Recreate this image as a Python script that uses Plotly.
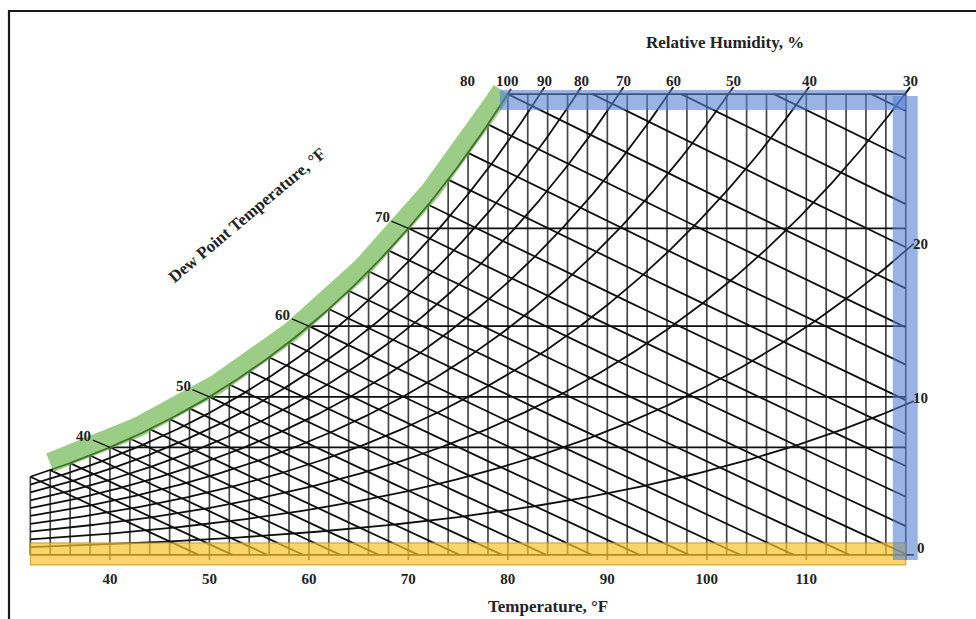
import numpy as np
import plotly.graph_objects as go

# ---------------------------------------------------------------- chart content
TEMP_TICKS = [40, 50, 60, 70, 80, 90, 100, 110]          # dry-bulb labels, °F
DRY_BULB_LINES = list(range(32, 121, 2))                 # vertical grid, °F
WET_BULB_LINES = list(range(32, 89, 2))                  # wet-bulb lines, °F
RH_LINES = [90, 80, 70, 60, 50, 40, 30, 20, 10]          # relative humidity, %
RH_TOP_LABELS = [100, 90, 80, 70, 60, 50, 40, 30]
RH_SIDE_LABELS = [20, 10, 0]
DEW_POINT_LINES = [40, 50, 60, 70]
DEW_POINT_LABELS = [40, 50, 60, 70]
DEW_POINT_TOP = 80

T_LEFT, T_RIGHT, T_TOP = 32, 120, 80                     # chart boundary, °F
P_ATM = 14.696                                           # psia, sea level

# ---------------------------------------------------------------- layout frame
FIG_W, FIG_H = 976, 619
MARGIN_B = 51
X_RANGE = [28.95, 127.06]
Y_RANGE = [-0.00063, 0.02678]
PX_X = (X_RANGE[1] - X_RANGE[0]) / FIG_W                 # °F per pixel
PX_Y = (Y_RANGE[1] - Y_RANGE[0]) / (FIG_H - MARGIN_B)    # lb/lb per pixel


# ---------------------------------------------------------------- psychrometrics
def p_sat(t_f):
    """Saturation vapour pressure over water (psia), Hyland-Wexler form."""
    T = np.asarray(t_f, dtype=float) + 459.67
    return np.exp(-1.0440397e4 / T - 1.1294650e1 - 2.7022355e-2 * T
                  + 1.2890360e-5 * T ** 2 - 2.4780681e-9 * T ** 3
                  + 6.5459673 * np.log(T))


def w_from_p(p):
    return 0.621945 * p / (P_ATM - p)


def w_sat(t):
    return w_from_p(p_sat(t))


def w_rh(t, rh):
    return w_from_p(rh / 100.0 * p_sat(t))


def w_wb(t, twb):
    return (((1093 - 0.556 * twb) * w_sat(twb) - 0.240 * (t - twb))
            / (1093 + 0.444 * t - twb))


def t_on_wb(w, twb):
    a = (1093 - 0.556 * twb) * w_sat(twb)
    return (a + 0.24 * twb - w * (1093 - twb)) / (0.24 + 0.444 * w)


def t_on_rh(w, rh):
    lo, hi = -20.0, 250.0
    for _ in range(70):
        mid = 0.5 * (lo + hi)
        if w_rh(mid, rh) < w:
            lo = mid
        else:
            hi = mid
    return 0.5 * (lo + hi)


W_TOP = float(w_sat(T_TOP))

fig = go.Figure()


def add_path(xs, ys, color, width):
    fig.add_trace(go.Scatter(x=xs, y=ys, mode="lines",
                             line=dict(color=color, width=width),
                             hoverinfo="skip", showlegend=False))


# dry-bulb verticals
vx, vy = [], []
for t in DRY_BULB_LINES:
    vx += [t, t, None]
    vy += [-5 * PX_Y if t % 10 == 0 else 0.0, min(float(w_sat(t)), W_TOP), None]
add_path(vx, vy, "rgb(70,70,70)", 1.7)

# black line work: boundary, saturation, dew points, RH and wet-bulb lines
bx, by = [], []


def seg(xs, ys):
    bx.extend(list(xs) + [None])
    by.extend(list(ys) + [None])


seg([T_LEFT, T_RIGHT + 8 * PX_X], [0, 0])
seg([T_TOP, T_RIGHT], [W_TOP, W_TOP])

t_sat_end = t_on_rh(W_TOP + 5 * PX_Y, 100)
ts = np.linspace(T_LEFT, t_sat_end, 300)
seg(ts, w_sat(ts))

for dp in DEW_POINT_LINES:
    w = float(w_sat(dp))
    seg([dp, T_RIGHT], [w, w])

rh_top_x = {100: T_TOP}
for rh in RH_LINES:
    t_hit = t_on_rh(W_TOP, rh)
    if t_hit <= T_RIGHT:
        t_end = t_on_rh(W_TOP + 7 * PX_Y, rh)
        rh_top_x[rh] = t_end
    else:
        t_end = T_RIGHT + 8 * PX_X
    ts = np.linspace(T_LEFT, t_end, 300)
    seg(ts, w_rh(ts, rh))

for twb in WET_BULB_LINES:
    t0 = twb if twb <= T_TOP else float(t_on_wb(W_TOP, twb))
    if t0 >= T_RIGHT:
        continue
    t1 = min(T_RIGHT, float(t_on_wb(0.0, twb)))
    ts = np.linspace(t0, t1, 30)
    seg(ts, w_wb(ts, twb))

add_path(bx, by, "rgb(15,15,15)", 1.8)

# green highlight along the saturation curve
tg = np.linspace(34.2, T_TOP, 200)
gx_px = (tg - X_RANGE[0]) / PX_X
gy_px = (w_sat(tg) - Y_RANGE[0]) / PX_Y
dx, dy = np.gradient(gx_px), np.gradient(gy_px)
norm = np.hypot(dx, dy)
off = 7.0
gx = (gx_px - dy / norm * off) * PX_X + X_RANGE[0]
gy = (gy_px + dx / norm * off) * PX_Y + Y_RANGE[0]
add_path(gx, gy, "rgba(95,175,60,0.62)", 20)

# blue and yellow highlight bands
shapes = [
    dict(type="rect", xref="x", yref="y", layer="above",
         x0=T_LEFT, x1=T_RIGHT, y0=-10 * PX_Y, y1=12 * PX_Y,
         fillcolor="rgba(247,195,45,0.7)",
         line=dict(color="rgba(190,150,30,0.9)", width=1)),
    dict(type="rect", xref="x", yref="y", layer="above",
         x0=T_TOP - 0.8, x1=T_RIGHT, y0=W_TOP - 16 * PX_Y, y1=W_TOP + 4 * PX_Y,
         fillcolor="rgba(85,130,210,0.6)", line=dict(width=0)),
    dict(type="rect", xref="x", yref="y", layer="above",
         x0=T_RIGHT - 13 * PX_X, x1=T_RIGHT + 12 * PX_X,
         y0=-5 * PX_Y, y1=W_TOP - 2 * PX_Y,
         fillcolor="rgba(85,130,210,0.6)", line=dict(width=0)),
    # outer frame
    dict(type="rect", xref="paper", yref="paper",
         x0=9 / FIG_W, x1=1.2, y0=-0.5, y1=1 - 11 / (FIG_H - MARGIN_B),
         line=dict(color="rgb(25,25,25)", width=2.2), fillcolor="rgba(0,0,0,0)"),
]

SERIF = "Liberation Serif"
LABEL_FONT = dict(family=SERIF, size=15, color="rgb(35,35,35)", weight="bold")
TITLE_FONT = dict(family=SERIF, size=17, color="rgb(35,35,35)", weight="bold")

ann = []
for rh in RH_TOP_LABELS:
    ann.append(dict(x=rh_top_x[rh], y=W_TOP, text=str(rh), showarrow=False,
                    yshift=13, font=LABEL_FONT))
ann.append(dict(x=T_TOP, y=W_TOP, text=str(DEW_POINT_TOP), showarrow=False,
                xshift=-40, yshift=13, font=LABEL_FONT))
for rh in RH_SIDE_LABELS:
    ann.append(dict(x=T_RIGHT, y=float(w_rh(T_RIGHT, rh)), text=str(rh),
                    showarrow=False, xshift=15, yshift=7, font=LABEL_FONT))
for dp in DEW_POINT_LABELS:
    ann.append(dict(x=dp, y=float(w_sat(dp)), text=str(dp), showarrow=True,
                    arrowhead=0, arrowwidth=1.3, arrowcolor="rgb(20,20,20)",
                    ax=-26, ay=-11, standoff=0, font=LABEL_FONT))

PLOT_H = FIG_H - MARGIN_B
ann.append(dict(xref="paper", yref="paper", x=725 / FIG_W, y=1 - 42 / PLOT_H,
                xanchor="center", yanchor="middle",
                text="Relative Humidity, %", showarrow=False, font=TITLE_FONT))
ann.append(dict(xref="paper", yref="paper", x=247 / FIG_W, y=1 - 216 / PLOT_H,
                xanchor="center", yanchor="middle",
                text="Dew Point Temperature, °F", textangle=-40,
                showarrow=False, font=TITLE_FONT))
ann.append(dict(xref="paper", yref="paper", x=548 / FIG_W, y=1 - 606 / PLOT_H,
                xanchor="center", yanchor="middle",
                text="Temperature, °F", showarrow=False, font=TITLE_FONT))

fig.update_layout(
    width=FIG_W, height=FIG_H,
    margin=dict(l=0, r=0, t=0, b=MARGIN_B),
    paper_bgcolor="white", plot_bgcolor="white",
    showlegend=False,
    shapes=shapes, annotations=ann,
    xaxis=dict(range=X_RANGE, tickmode="array", tickvals=TEMP_TICKS,
               ticktext=[str(t) for t in TEMP_TICKS], ticks="",
               showgrid=False, zeroline=False, showline=False,
               tickfont=LABEL_FONT, ticklabelstandoff=0),
    yaxis=dict(range=Y_RANGE, visible=False, showgrid=False, zeroline=False),
)

fig.write_html("out.html")
